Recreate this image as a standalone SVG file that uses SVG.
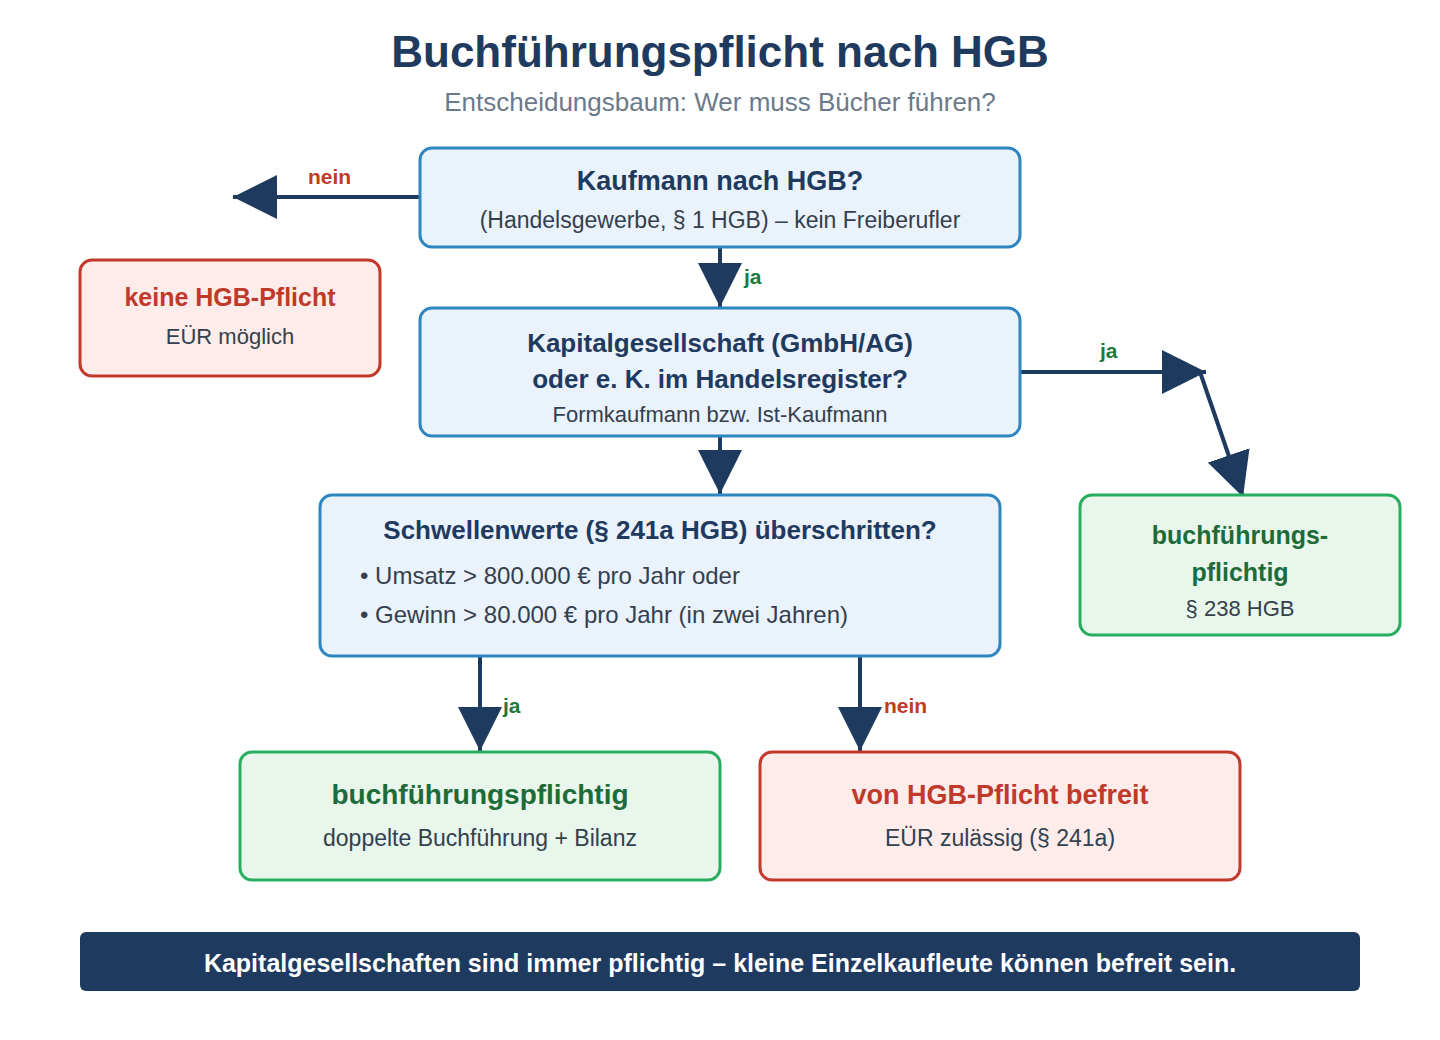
<svg xmlns="http://www.w3.org/2000/svg" width="1440" height="1040" viewBox="0 0 1440 1040">
<defs>
<marker id="ah" viewBox="0 0 10 10" refX="10" refY="5" markerWidth="11" markerHeight="11" markerUnits="strokeWidth" orient="auto">
<path d="M0,0 L10,5 L0,10 Z" fill="#1f3a5f"/>
</marker>
</defs>
<style>
text{font-family:"Liberation Sans",Arial,Helvetica,sans-serif;text-anchor:middle}
.q rect{fill:#eaf2fb;stroke:#2e86c1;stroke-width:3}
.g rect{fill:#e8f6ec;stroke:#27ae60;stroke-width:3}
.r rect{fill:#fdecea;stroke:#c0392b;stroke-width:3}
.qt{font-size:26px;font-weight:bold;fill:#1f3a5f}
.gt{font-size:25px;font-weight:bold;fill:#1e6b3a}
.rt{font-size:25px;font-weight:bold;fill:#c0392b}
.big{font-size:28px}
.sub{font-size:22px;fill:#34404d}
.sub2{font-size:23px;fill:#34404d}
.bul{font-size:24px;fill:#34404d;text-anchor:start}
.c line{stroke:#1f3a5f;stroke-width:4;marker-end:url(#ah)}
.ja{font-size:21px;font-weight:bold;fill:#1e7a3c;text-anchor:start}
.nein{font-size:21px;font-weight:bold;fill:#c0392b;text-anchor:start}
</style>
<rect width="1440" height="1040" fill="#ffffff"/>
<text x="720" y="67" style="font-size:44px;font-weight:bold;fill:#1f3a5f">Buchführungspflicht nach HGB</text>
<text x="720" y="111" style="font-size:26px;fill:#6b7a8a">Entscheidungsbaum: Wer muss Bücher führen?</text>

<g class="c" id="connectors">
<line x1="420" y1="197" x2="233" y2="197"/>
<line x1="720" y1="247" x2="720" y2="307"/>
<line x1="720" y1="436" x2="720" y2="494"/>
<line x1="1020" y1="372" x2="1206" y2="372"/>
<line x1="1200" y1="372" x2="1243" y2="497"/>
<line x1="480" y1="656" x2="480" y2="751"/>
<line x1="860" y1="656" x2="860" y2="751"/>
<text class="nein" x="308" y="184">nein</text>
<text class="ja" x="744" y="284">ja</text>
<text class="ja" x="1100" y="358">ja</text>
<text class="ja" x="503" y="713">ja</text>
<text class="nein" x="884" y="713">nein</text>
</g>

<g class="q" id="n-kaufmann">
<rect x="420" y="148" width="600" height="99" rx="12"/>
<text class="qt" x="720" y="190" style="font-size:27px">Kaufmann nach HGB?</text>
<text class="sub" x="720" y="228" style="font-size:23px">(Handelsgewerbe, § 1 HGB) – kein Freiberufler</text>
</g>

<g class="r" id="n-keine">
<rect x="80" y="260" width="300" height="116" rx="12"/>
<text class="rt" x="230" y="306">keine HGB-Pflicht</text>
<text class="sub" x="230" y="344">EÜR möglich</text>
</g>

<g class="q" id="n-kapital">
<rect x="420" y="308" width="600" height="128" rx="12"/>
<text class="qt" x="720" y="352">Kapitalgesellschaft (GmbH/AG)</text>
<text class="qt" x="720" y="388">oder e. K. im Handelsregister?</text>
<text class="sub" x="720" y="422">Formkaufmann bzw. Ist-Kaufmann</text>
</g>

<g class="g" id="n-pflichtig238">
<rect x="1080" y="495" width="320" height="140" rx="12"/>
<text class="gt" x="1240" y="544">buchführungs-</text>
<text class="gt" x="1240" y="581">pflichtig</text>
<text class="sub" x="1240" y="616">§ 238 HGB</text>
</g>

<g class="q" id="n-schwelle">
<rect x="320" y="495" width="680" height="161" rx="12"/>
<text class="qt" x="660" y="539">Schwellenwerte (§ 241a HGB) überschritten?</text>
<text class="bul" x="360" y="584">• Umsatz &gt; 800.000 € pro Jahr oder</text>
<text class="bul" x="360" y="623">• Gewinn &gt; 80.000 € pro Jahr (in zwei Jahren)</text>
</g>

<g class="g" id="n-pflichtig">
<rect x="240" y="752" width="480" height="128" rx="12"/>
<text class="gt big" x="480" y="804">buchführungspflichtig</text>
<text class="sub2" x="480" y="846">doppelte Buchführung + Bilanz</text>
</g>

<g class="r" id="n-befreit">
<rect x="760" y="752" width="480" height="128" rx="12"/>
<text class="rt" x="1000" y="804" style="font-size:27px">von HGB-Pflicht befreit</text>
<text class="sub2" x="1000" y="846">EÜR zulässig (§ 241a)</text>
</g>

<g id="footer">
<rect x="80" y="932" width="1280" height="59" rx="6" fill="#1f3a5f"/>
<text x="720" y="972" style="font-size:25px;font-weight:bold;fill:#ffffff">Kapitalgesellschaften sind immer pflichtig – kleine Einzelkaufleute können befreit sein.</text>
</g>
</svg>
